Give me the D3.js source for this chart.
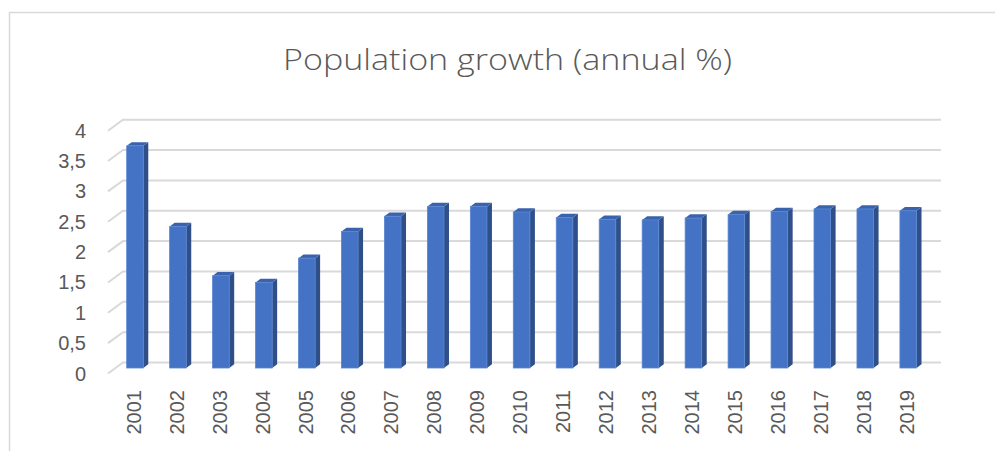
<!DOCTYPE html>
<html>
<head>
<meta charset="utf-8">
<script src="https://cdn.jsdelivr.net/npm/d3@7/dist/d3.min.js"></script>
<style>
  html, body { margin: 0; padding: 0; background: #ffffff; }
  svg { display: block; }
</style>
</head>
<body>
<svg id="chart" width="995" height="451"></svg>
<script>
const title = "Population growth (annual %)";
const years = ["2001","2002","2003","2004","2005","2006","2007","2008","2009","2010",
               "2011","2012","2013","2014","2015","2016","2017","2018","2019"];
const growth = [3.66, 2.33, 1.52, 1.41, 1.81, 2.25, 2.50, 2.66, 2.66, 2.57,
                2.48, 2.45, 2.44, 2.47, 2.53, 2.58, 2.62, 2.62, 2.59];
const yTicks = [0, 0.5, 1, 1.5, 2, 2.5, 3, 3.5, 4];
const yTickLabels = ["0", "0,5", "1", "1,5", "2", "2,5", "3", "3,5", "4"];

const svg = d3.select("#chart");

// chart frame
svg.append("path")
  .attr("d", "M9.5,451 L9.5,12.5 L995,12.5")
  .attr("fill", "none").attr("stroke", "#d9d9d9").attr("stroke-width", 1.5);

// scales
const x = d3.scaleBand().domain(years).range([116, 932.2]).padding(0);
const y = d3.scaleLinear().domain([0, 4]).range([368, 125.2]);

const faceW = 16.6, depthX = 5, depthY = 3.7;
const faceOff = (x.bandwidth() - faceW - depthX) / 2;

// 3D geometry of the walls
const backShiftY = -5.5;
const frontLeftX = 108, backLeftX = 123, backRightX = 941, slantDy = 11;

// gridlines
const grid = svg.append("g");
yTicks.forEach(v => {
  const yb = y(v) + backShiftY;
  grid.append("path")
    .attr("d", `M${frontLeftX},${yb + slantDy} L${backLeftX},${yb} L${backRightX},${yb}`)
    .attr("fill", "none").attr("stroke", "#d9d9d9").attr("stroke-width", 2);
});

// y labels
svg.append("g").selectAll("text").data(yTicks).join("text")
  .attr("x", 86)
  .attr("y", d => y(d) + backShiftY + slantDy)
  .attr("dy", "0.35em")
  .attr("text-anchor", "end")
  .attr("font-family", "'Liberation Sans', Arial, sans-serif")
  .attr("font-size", 20)
  .attr("fill", "#595959")
  .text((d, i) => yTickLabels[i]);

// bars
const bars = svg.append("g").selectAll("g").data(years).join("g");
bars.each(function(d, i) {
  const g = d3.select(this);
  const fx = x(d) + faceOff;
  const top = y(growth[i]), base = y(0);
  g.append("polygon")
    .attr("points", [[fx + faceW, top], [fx + faceW + depthX, top - depthY],
                     [fx + faceW + depthX, base - depthY], [fx + faceW, base]].join(" "))
    .attr("fill", "#2f4f88");
  g.append("polygon")
    .attr("points", [[fx, top], [fx + depthX, top - depthY],
                     [fx + faceW + depthX, top - depthY], [fx + faceW, top]].join(" "))
    .attr("fill", "#3a62ad");
  g.append("rect")
    .attr("x", fx).attr("y", top)
    .attr("width", faceW).attr("height", base - top)
    .attr("fill", "#4472c4")
    .attr("stroke", "#5a86d2").attr("stroke-width", 0.8);
});

// x labels
svg.append("g").selectAll("text").data(years).join("text")
  .attr("transform", d => `translate(${x(d) + faceOff + 7},390) rotate(-90)`)
  .attr("dy", "0.35em")
  .attr("text-anchor", "end")
  .attr("font-family", "'Liberation Sans', Arial, sans-serif")
  .attr("font-size", 20)
  .attr("fill", "#595959")
  .text(d => d);

// title
svg.append("text")
  .attr("x", 507.5).attr("y", 69.5)
  .attr("text-anchor", "middle")
  .attr("font-family", "'Open Sans', sans-serif")
  .attr("font-weight", 300)
  .attr("font-size", 30)
  .attr("textLength", 449)
  .attr("lengthAdjust", "spacingAndGlyphs")
  .attr("fill", "#595959")
  .text(title);
</script>
</body>
</html>
